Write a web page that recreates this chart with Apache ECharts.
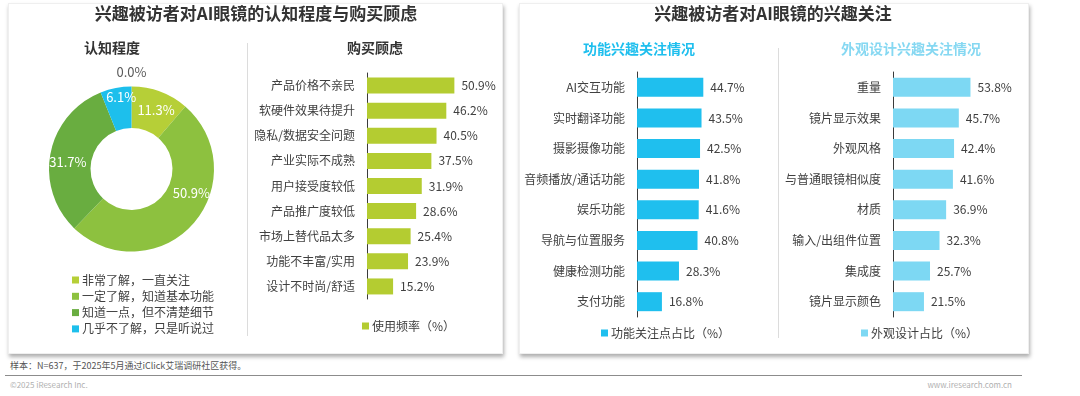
<!DOCTYPE html>
<html>
<head>
<meta charset="utf-8">
<script src="https://cdn.jsdelivr.net/npm/echarts@6.0.0/dist/echarts.min.js"></script>
<style>
  body { margin: 0; background: #fff; font-family: "Noto Sans CJK SC", "Noto Sans", sans-serif; }
  #wrap { position: relative; width: 1080px; height: 396px; overflow: hidden; }
  .card { position: absolute; background: #fff; border: 1px solid #efefef; box-shadow: 1px 3px 4px rgba(0,0,0,0.32); }
  .vline { position: absolute; width: 1px; background: #dcdcdc; }
  .note { position: absolute; white-space: nowrap; }
  #main { position: absolute; left: 0; top: 0; width: 1080px; height: 396px; }
</style>
</head>
<body>
<div id="wrap">
  <div class="card" style="left:8px;top:3px;width:493px;height:349px;"></div>
  <div class="card" style="left:519px;top:3px;width:508px;height:349px;"></div>
  <div class="vline" style="left:247px;top:43px;height:293px;"></div>
  <div class="vline" style="left:778px;top:48px;height:290px;"></div>
  <div class="note" style="left:10px;top:359px;font-size:9px;color:#555;">样本：N=637，于2025年5月通过iClick艾瑞调研社区获得。</div>
  <div style="position:absolute;left:5px;top:375px;width:1017px;height:1px;background:#8c8c8c;"></div>
  <div class="note" style="left:10px;top:379px;font-size:8px;color:#b0b0b0;">©2025 iResearch Inc.</div>
  <div class="note" style="right:68px;top:379px;font-size:8px;color:#b0b0b0;">www.iresearch.com.cn</div>
  <div id="main"></div>
</div>
<script>
// 认知程度
var awareNames = ['非常了解，一直关注', '一定了解，知道基本功能', '知道一点，但不清楚细节', '几乎不了解，只是听说过', ''];
var awareValues = [11.3, 50.9, 31.7, 6.1, 0.0];
var awareColors = ['#b6cf37', '#8dc13f', '#69ad40', '#1dbfec', '#bdbdbd'];

// 购买顾虑
var worryCats = ['产品价格不亲民', '软硬件效果待提升', '隐私/数据安全问题', '产业实际不成熟', '用户接受度较低',
  '产品推广度较低', '市场上替代品太多', '功能不丰富/实用', '设计不时尚/舒适'];
var worryValues = [50.9, 46.2, 40.5, 37.5, 31.9, 28.6, 25.4, 23.9, 15.2];

// 功能兴趣关注
var funcCats = ['AI交互功能', '实时翻译功能', '摄影摄像功能', '音频播放/通话功能', '娱乐功能', '导航与位置服务', '健康检测功能', '支付功能'];
var funcValues = [44.7, 43.5, 42.5, 41.8, 41.6, 40.8, 28.3, 16.8];

// 外观设计兴趣关注
var lookCats = ['重量', '镜片显示效果', '外观风格', '与普通眼镜相似度', '材质', '输入/出组件位置', '集成度', '镜片显示颜色'];
var lookValues = [53.8, 45.7, 42.4, 41.6, 36.9, 32.3, 25.7, 21.5];

var txt = '#404040';
var font = '"Noto Sans CJK SC", sans-serif';
function pct(v) { return v.toFixed(1) + '%'; }

var myChart = echarts.init(document.getElementById('main'));

// 饼图标签微调
var pieLabelShift = [[2, 2], [12, -20], [0, 5], [2, -8], [0, -32]];
var pieData = awareValues.map(function (v, i) {
  var item = { name: awareNames[i], value: v, label: { offset: pieLabelShift[i] } };
  if (v === 0) item.label.color = '#595959';
  return item;
});

function titleItem(text, x, y, size, color) {
  return {
    text: text, left: x, top: y - size * 0.62, textAlign: 'center', padding: 0,
    textStyle: { fontSize: size, fontWeight: 'bold', color: color, fontFamily: font }
  };
}

function yCat(idx, cats) {
  return {
    type: 'category', gridIndex: idx, data: cats, inverse: true,
    axisLine: { lineStyle: { color: '#3a3a3a', width: 1 } },
    axisTick: { show: false },
    axisLabel: { color: txt, fontSize: 12, margin: 12, fontFamily: font }
  };
}
function xVal(idx) {
  return { type: 'value', gridIndex: idx, min: 0, max: 60, show: false };
}
function barSeries(idx, name, values, color, w) {
  return {
    type: 'bar', name: name, xAxisIndex: idx, yAxisIndex: idx, data: values, barWidth: w,
    itemStyle: { color: color },
    label: { show: true, position: 'right', distance: 7, color: txt, fontSize: 12, fontFamily: font,
      formatter: function (p) { return pct(p.value); } }
  };
}
function legendItem(name, x, y) {
  return {
    data: [name], left: x, top: y, icon: 'rect', itemWidth: 7, itemHeight: 7, selectedMode: false,
    textStyle: { color: txt, fontSize: 12, fontFamily: font, lineHeight: 14, padding: [0, 0, 0, -2] }
  };
}

var option = {
  animation: false,
  textStyle: { fontFamily: font },
  title: [
    titleItem('兴趣被访者对AI眼镜的认知程度与购买顾虑', 256, 15.5, 17, '#333'),
    titleItem('兴趣被访者对AI眼镜的兴趣关注', 773, 15.5, 17, '#333'),
    titleItem('认知程度', 112, 49.5, 14, '#333'),
    titleItem('购买顾虑', 375, 49.5, 14, '#333'),
    titleItem('功能兴趣关注情况', 639, 50, 14, '#1fbfee'),
    titleItem('外观设计兴趣关注情况', 911, 50, 14, '#86d8f2')
  ],
  legend: [
    {
      data: awareNames.slice(0, 4), orient: 'vertical', left: 67, top: 268, icon: 'rect',
      itemWidth: 7, itemHeight: 7, itemGap: 2.3, selectedMode: false,
      textStyle: { color: txt, fontSize: 12, fontFamily: font, lineHeight: 14, padding: [0, 0, 0, -2] }
    },
    legendItem('使用频率（%）', 357, 314),
    legendItem('功能关注点占比（%）', 596, 321),
    legendItem('外观设计占比（%）', 856, 321)
  ],
  grid: [
    { left: 367, top: 73, width: 103, height: 226 },
    { left: 637, top: 72, width: 89, height: 245 },
    { left: 893, top: 72, width: 86.4, height: 245 }
  ],
  xAxis: [xVal(0), xVal(1), xVal(2)],
  yAxis: [yCat(0, worryCats), yCat(1, funcCats), yCat(2, lookCats)],
  series: [
    {
      type: 'pie', name: '认知程度', center: [131.5, 169], radius: [41, 82.5],
      startAngle: 90, clockwise: true, avoidLabelOverlap: false, color: awareColors,
      label: { show: true, position: 'inside', color: '#fff', fontSize: 13, fontFamily: font,
        formatter: function (p) { return pct(p.value); } },
      labelLine: { show: false },
      data: pieData
    },
    barSeries(0, '使用频率（%）', worryValues, '#b4cc31', 16),
    barSeries(1, '功能关注点占比（%）', funcValues, '#1fbfee', 19),
    barSeries(2, '外观设计占比（%）', lookValues, '#7dd8f3', 19)
  ]
};

myChart.setOption(option);
</script>
</body>
</html>
